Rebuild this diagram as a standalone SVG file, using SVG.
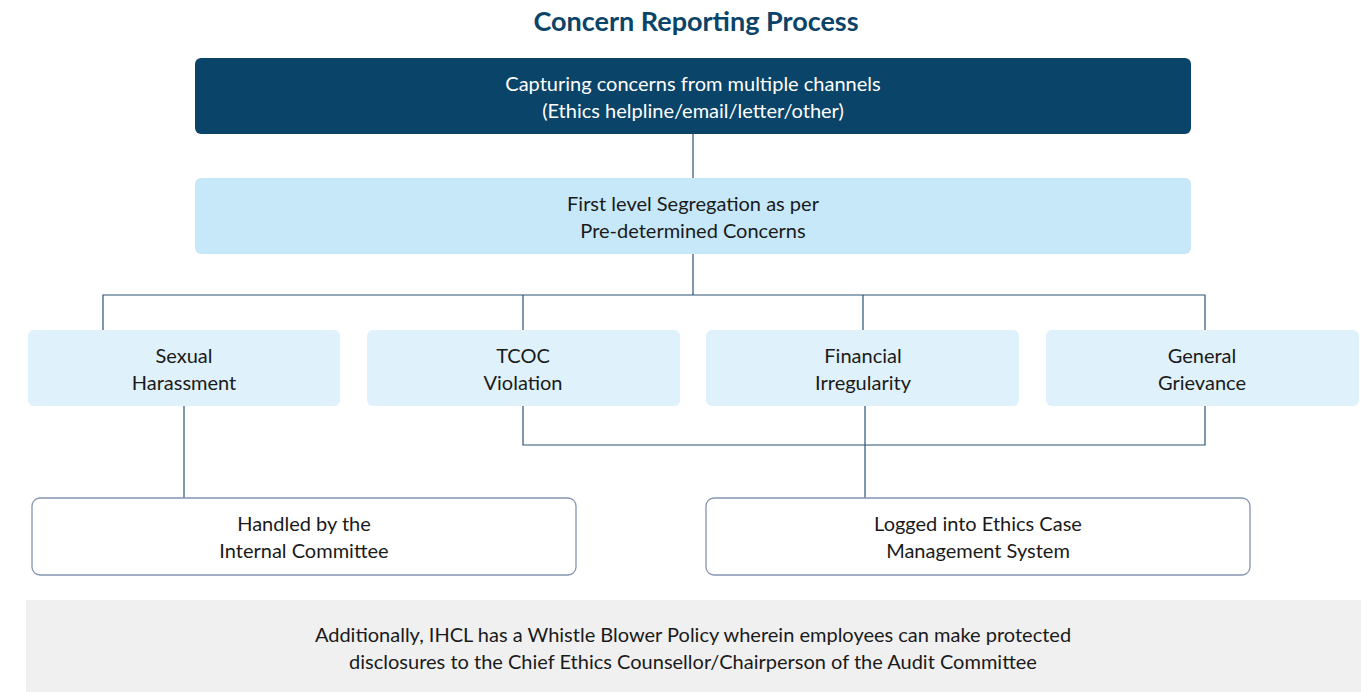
<svg xmlns="http://www.w3.org/2000/svg" width="1370" height="692" viewBox="0 0 1370 692">
<style>
text{font-family:Lato,"Liberation Sans",sans-serif;font-size:20px;text-anchor:middle;fill:#1a1a1a}
.title{font-size:27px;font-weight:bold;fill:#0a4468}
.wt{fill:#ffffff}
.dark{fill:#0a4468}
.seg{fill:#c6e8f8}
.cat{fill:#dff1fb}
.out{fill:#ffffff;stroke:#8494b0;stroke-width:1.3}
.con{fill:none;stroke:#2a5477;stroke-width:1.2}
</style>
<rect width="1370" height="692" fill="#ffffff"/>
<text class="title" x="696" y="31">Concern Reporting Process</text>
<g id="connectors">
<path class="con" d="M693 134V178"/>
<path class="con" d="M693 254V295M103 330V295H1205V330M523 295V330M863 295V330"/>
<path class="con" d="M184 406V498"/>
<path class="con" d="M523 406V445H1205V406"/>
<path class="con" d="M865 406V498"/>
</g>
<g id="capture">
<rect class="dark" x="195" y="58" width="996" height="76" rx="6"/>
<text class="wt" x="693" y="91">Capturing concerns from multiple channels</text>
<text class="wt" x="693" y="118">(Ethics helpline/email/letter/other)</text>
</g>
<g id="segregation">
<rect class="seg" x="195" y="178" width="996" height="76" rx="6"/>
<text x="693" y="211">First level Segregation as per</text>
<text x="693" y="238">Pre-determined Concerns</text>
</g>
<g id="sexual">
<rect class="cat" x="28" y="330" width="312" height="76" rx="6"/>
<text x="184" y="363">Sexual</text>
<text x="184" y="390">Harassment</text>
</g>
<g id="tcoc">
<rect class="cat" x="367" y="330" width="313" height="76" rx="6"/>
<text x="523" y="363">TCOC</text>
<text x="523" y="390">Violation</text>
</g>
<g id="financial">
<rect class="cat" x="706" y="330" width="313" height="76" rx="6"/>
<text x="863" y="363">Financial</text>
<text x="863" y="390">Irregularity</text>
</g>
<g id="general">
<rect class="cat" x="1046" y="330" width="313" height="76" rx="6"/>
<text x="1202" y="363">General</text>
<text x="1202" y="390">Grievance</text>
</g>
<g id="internal">
<rect class="out" x="32" y="498" width="544" height="77" rx="8"/>
<text x="304" y="531">Handled by the</text>
<text x="304" y="558">Internal Committee</text>
</g>
<g id="logged">
<rect class="out" x="706" y="498" width="544" height="77" rx="8"/>
<text x="978" y="531">Logged into Ethics Case</text>
<text x="978" y="558">Management System</text>
</g>
<g id="whistle">
<rect x="26" y="600" width="1335" height="92" fill="#f0f0f0"/>
<text x="693" y="642">Additionally, IHCL has a Whistle Blower Policy wherein employees can make protected</text>
<text x="693" y="669">disclosures to the Chief Ethics Counsellor/Chairperson of the Audit Committee</text>
</g>
</svg>
